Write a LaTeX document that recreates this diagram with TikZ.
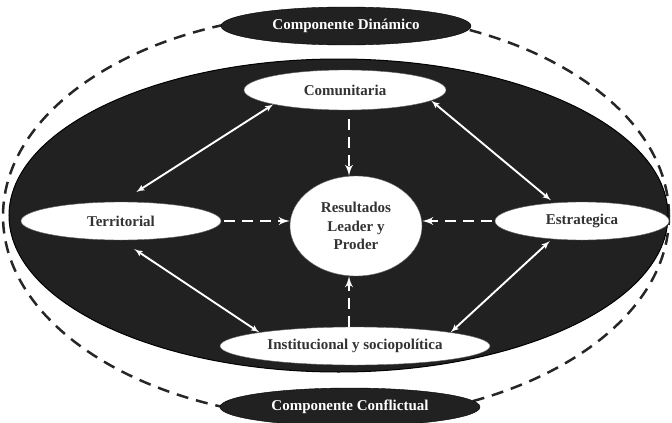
\documentclass[tikz,border=0pt]{standalone}
\usepackage{fontspec}
\setmainfont{Liberation Serif}
\usepackage{tikz}
\usetikzlibrary{shapes.geometric, arrows}

\begin{document}
\begin{tikzpicture}[x=1pt, y=-1pt, >=latex']
        \tikzstyle{inner_style} = [ellipse, inner sep=0pt, fill=white, draw=black!60, text=black!80, font=\bfseries\fontsize{15}{18.5}\selectfont, align=center]
        \tikzstyle{comp_style} = [ellipse, inner sep=0pt, minimum width=250pt, minimum height=38pt, fill=black!87, draw=black, text=white, font=\bfseries\fontsize{15}{18.5}\selectfont]
        \tikzstyle{dash_arrow} = [->, draw=white, line width=2.8pt, dash pattern=on 11pt off 7pt]
        \tikzstyle{link_arrow} = [<->, draw=white, line width=1.9pt]

        \useasboundingbox (0,0) rectangle (672,423);

        % Outer dashed ring
        \draw [line width=2.5pt, black!85, dash pattern=on 12pt off 8pt] (336,216) ellipse [x radius=333pt, y radius=203pt];
        % Black field
        \draw [fill=black!87, draw=black, line width=1pt] (338.5,215.5) ellipse [x radius=329.5pt, y radius=156.5pt];

        % Components
        \node (din) [comp_style] at (346,26) {Componente Dinámico};
        \node (conf) [comp_style, minimum width=260pt] at (350,407) {Componente Conflictual};

        % Center node
        \node (res) [inner_style, minimum width=132pt, minimum height=100pt] at (356,226) {Resultados\\Leader y\\Proder};

        % Dimensions
        \node (comu) [inner_style, minimum width=202pt, minimum height=40pt] at (345,90) {Comunitaria};
        \node (terr) [inner_style, minimum width=200pt, minimum height=38pt] at (121,221) {Territorial};
        \node (estr) [inner_style, minimum width=174pt, minimum height=38pt] at (582,221) {Estrategica};
        \node (inst) [inner_style, minimum width=270pt, minimum height=38pt] at (355,346) {Institucional y sociopolítica};

        \coordinate (axis) at (349,0);

        % Dashed arrows into the center
        \draw [dash_arrow, shorten <=9pt] (comu.south -| axis) -- (res.north -| axis);
        \draw [dash_arrow] (inst.north -| axis) -- (res.south -| axis);
        \draw [dash_arrow, shorten <=3pt] (terr.east) -- (terr.east -| res.west);
        \draw [dash_arrow, shorten <=3pt] (estr.west) -- (estr.west -| res.east);

        % Links between dimensions
        \draw [link_arrow, shorten >=18pt] (comu.south west) -- (terr.north);
        \draw [link_arrow, shorten >=4pt] (comu.-7) -- (estr.147);
        \draw [link_arrow, shorten <=16pt] (terr.south) -- (inst.north west);
        \draw [link_arrow, shorten <=3pt] (estr.211) -- (inst.north east);
    \end{tikzpicture}
\end{document}
